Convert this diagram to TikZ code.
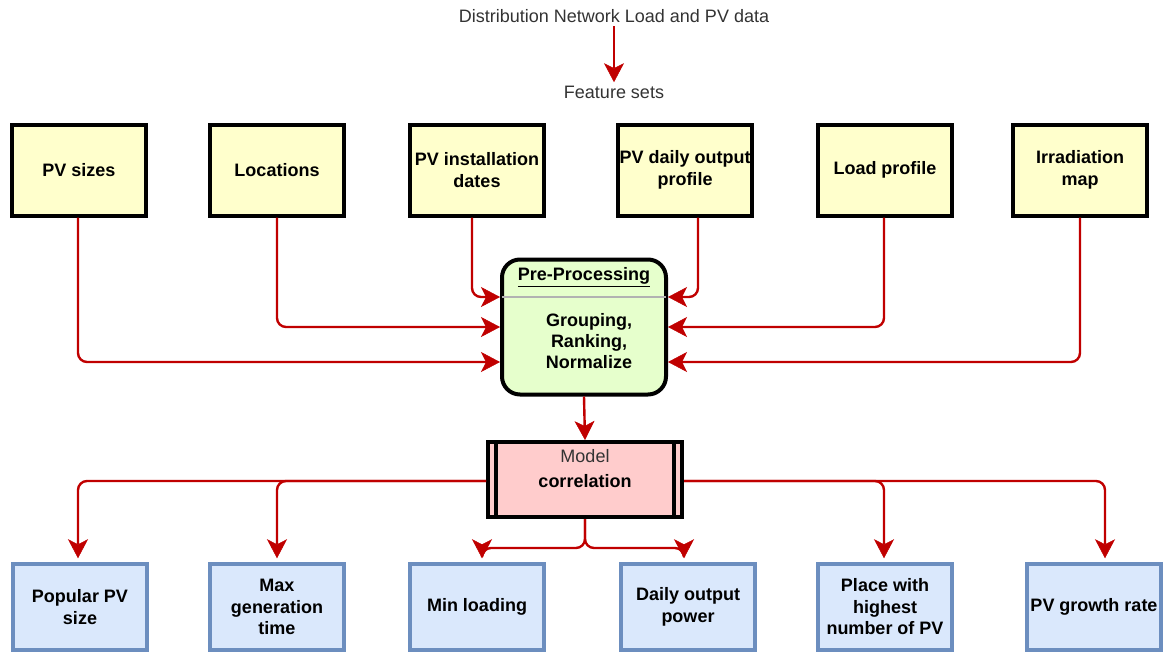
\documentclass[tikz,border=0pt]{standalone}
\usepackage{fontspec}
\setmainfont{Liberation Sans}
\usetikzlibrary{arrows.meta,calc}
\definecolor{arrred}{HTML}{C00000}
\definecolor{yfill}{HTML}{FFFFCC}
\definecolor{gfill}{HTML}{E6FFCC}
\definecolor{pfill}{HTML}{FFCCCC}
\definecolor{bfill}{HTML}{DAE8FC}
\definecolor{bdraw}{HTML}{6C8EBF}
\definecolor{txtgray}{HTML}{333333}
\tikzset{
  feat/.style={draw=black, line width=4pt, fill=yfill, minimum width=134pt, minimum height=91pt,
    align=center, font=\fontsize{18}{21.5}\selectfont\bfseries, inner sep=1pt},
  outbox/.style={draw=bdraw, line width=3.5pt, fill=bfill, minimum width=134pt, minimum height=86pt,
    align=center, font=\fontsize{18}{21.5}\selectfont\bfseries, inner sep=1pt},
  arr/.style={draw=arrred, line width=2.4pt, rounded corners=9pt,
    -{Stealth[length=19pt,width=20pt,inset=5pt,line width=0.5pt]}},
  plain/.style={font=\fontsize{18}{21}\selectfont, text=txtgray},
}
\begin{document}
\begin{tikzpicture}[x=1pt,y=-1pt]
\useasboundingbox (0,0) rectangle (1163,657);
% top
\node[plain] (src) at (614,16) {Distribution Network Load and PV data};
\node[plain] (fs) at (614,92) {Feature sets};
\draw[arr] (src.south) -- (fs.north);
% features
\node[feat] (f1) at (79,170) {PV sizes};
\node[feat] (f2) at (277,170) {Locations};
\node[feat] (f3) at (477,170) {PV installation\\dates};
\node[feat] (f4) at (685,170) {PV daily output\\profile};
\node[feat] (f5) at (885,170) {Load profile};
\node[feat] (f6) at (1080,170) {Irradiation\\map};
% pre-processing
\node[draw=black, line width=4pt, fill=gfill, rounded corners=18pt,
  minimum width=164pt, minimum height=135pt] (pre) at (584,327) {};
\draw[gray!60, line width=1.5pt] ([xshift=2pt]pre.west |- 0,297) -- ([xshift=-2pt]pre.east |- 0,297);
\node[font=\fontsize{18}{21}\selectfont\bfseries] (pret) at (584,277) {\underline{Pre-Processing}};
\node[font=\fontsize{18}{21}\selectfont\bfseries, align=center] (prex) at (589,341) {Grouping,\\Ranking,\\Normalize};
% model
\node[draw=black, line width=4pt, fill=pfill, minimum width=194pt, minimum height=75pt] (model) at (585,479.5) {};
\draw[black, line width=4pt] ([xshift=10pt]model.north west) -- ([xshift=10pt]model.south west);
\draw[black, line width=4pt] ([xshift=-10pt]model.north east) -- ([xshift=-10pt]model.south east);
\node[font=\fontsize{18}{21}\selectfont, text=txtgray] (mt) at (585,456) {Model};
\node[font=\fontsize{18}{21}\selectfont\bfseries] (mc) at (585,481) {correlation};
% outputs
\node[outbox] (o1) at (80,607) {Popular PV\\size};
\node[outbox] (o2) at (277,607) {Max\\generation\\time};
\node[outbox] (o3) at (477,607) {Min loading};
\node[outbox] (o4) at (688,607) {Daily output\\power};
\node[outbox] (o5) at (885,607) {Place with\\highest\\number of PV};
\node[outbox] (o6) at (1094,607) {PV growth rate};
% inputs to pre-processing
\draw[arr] ([xshift=-1pt]f1.south) |- ([yshift=-35pt]pre.west);
\draw[arr] (f2.south) |- (pre.west);
\draw[arr] ([xshift=-5pt]f3.south) |- ([yshift=30pt]pre.west);
\draw[arr] ([xshift=13pt]f4.south) |- ([yshift=30pt]pre.east);
\draw[arr] ([xshift=-1pt]f5.south) |- (pre.east);
\draw[arr] (f6.south) |- ([yshift=-35pt]pre.east);
% pre to model
\draw[arr] (pre.south) -- (model.north);
% model to outputs
\coordinate (ml) at ([yshift=-1.5pt]model.west);
\coordinate (mr) at ([yshift=-1.5pt]model.east);
\draw[arr] (ml) -| ([xshift=-2pt,yshift=4pt]o1.north);
\draw[arr] (ml) -| ([yshift=4pt]o2.north);
\draw[arr] (mr) -| ([xshift=-1pt,yshift=4pt]o5.north);
\draw[arr] (mr) -| ([xshift=11pt,yshift=4pt]o6.north);
\coordinate (split) at (585,548);
\draw[arr] (model.south) -- (split) -| ([xshift=5pt,yshift=4pt]o3.north);
\draw[arr] (model.south) -- (split) -| ([xshift=-4pt,yshift=4pt]o4.north);
\end{tikzpicture}
\end{document}
